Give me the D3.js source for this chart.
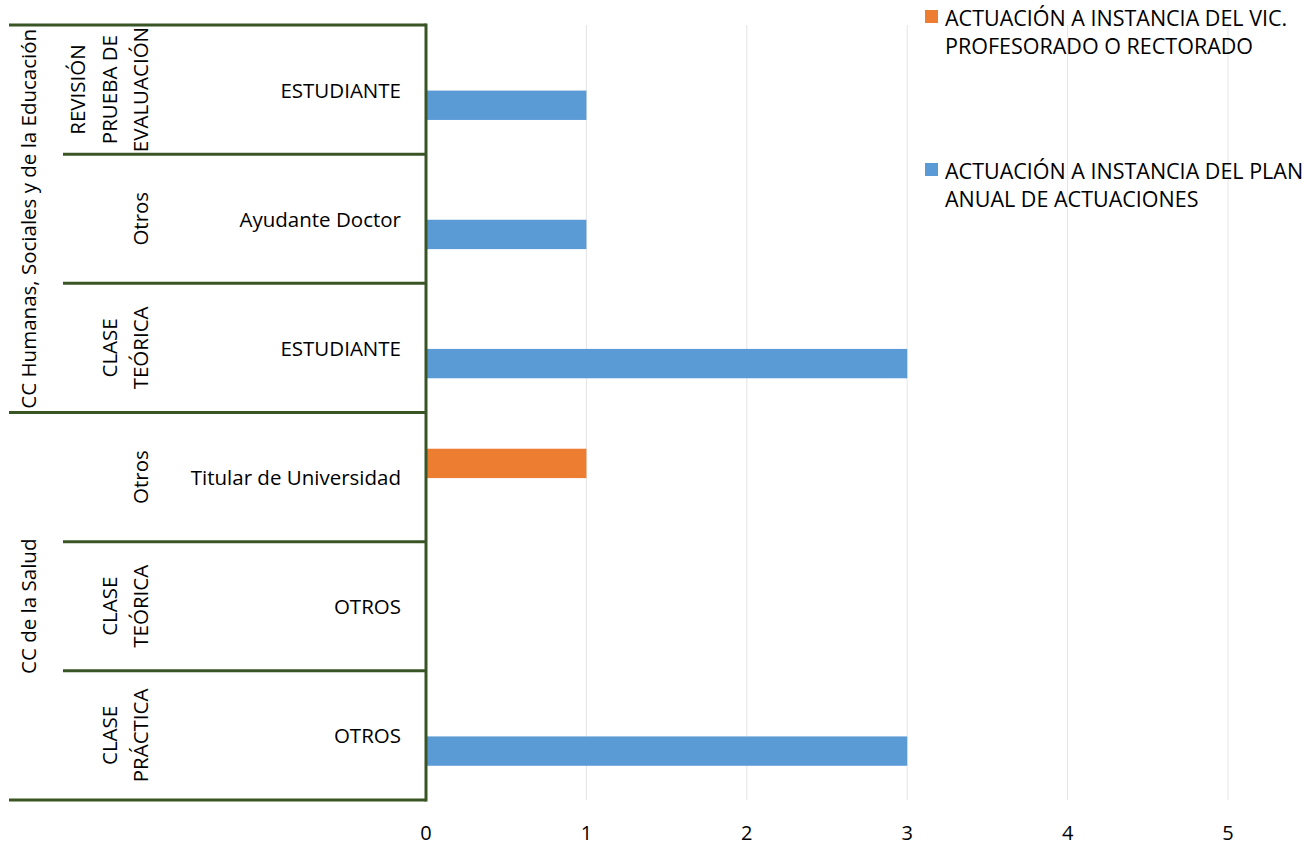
<!DOCTYPE html>
<html>
<head>
<meta charset="utf-8">
<script src="https://cdn.jsdelivr.net/npm/d3@7"></script>
<style>
  body { margin: 0; background: #fff; }
  text { font-family: "Open Sans", sans-serif; fill: #000; }
</style>
</head>
<body>
<div id="okvir"></div>
<script>
// podatci
const kategorije = ["ESTUDIANTE", "Ayudante Doctor", "ESTUDIANTE", "Titular de Universidad", "OTROS", "OTROS"];
const tipovi = [["REVISIÓN", "PRUEBA DE", "EVALUACIÓN"], ["Otros"], ["CLASE", "TEÓRICA"], ["Otros"], ["CLASE", "TEÓRICA"], ["CLASE", "PRÁCTICA"]];
const podrucja = ["CC Humanas, Sociales y de la Educación", "CC de la Salud"];
const podrucjeRaspon = [[0, 3], [3, 6]]; // indeksi kategorija [od, do)
const serije = ["ACTUACIÓN A INSTANCIA DEL VIC. PROFESORADO O RECTORADO", "ACTUACIÓN A INSTANCIA DEL PLAN ANUAL DE ACTUACIONES"];
const serijeRedovi = [["ACTUACIÓN A INSTANCIA DEL VIC.", "PROFESORADO O RECTORADO"], ["ACTUACIÓN A INSTANCIA DEL PLAN", "ANUAL DE ACTUACIONES"]];
const vicRectorado = [0, 0, 0, 1, 0, 0];
const planAnual = [1, 1, 3, 0, 0, 3];
const xTicks = [0, 1, 2, 3, 4, 5];

const boje = ["#ED7D31", "#5B9BD5"];
const zelena = "#3a5525";
const fs = 20.5;

const dimenzije = { width: 1311, height: 845, top: 25, bottom: 800, left: 426, right: 1228 };

const svg = d3.select("#okvir").append("svg")
  .attr("width", dimenzije.width)
  .attr("height", dimenzije.height);

const idx = kategorije.map((d, i) => i);

const xMjerilo = d3.scaleLinear().domain([0, 5]).range([dimenzije.left, dimenzije.right]);
const yMjerilo = d3.scaleBand().domain(idx).range([dimenzije.top, dimenzije.bottom]).paddingInner(0).paddingOuter(0);
const ySerija = d3.scaleBand().domain([0, 1]).range([0, yMjerilo.bandwidth()]).paddingInner(0).paddingOuter(1.2);

// mreža
svg.append("g").selectAll("line")
  .data(xTicks.slice(1))
  .join("line")
  .attr("x1", d => xMjerilo(d)).attr("x2", d => xMjerilo(d))
  .attr("y1", dimenzije.top).attr("y2", dimenzije.bottom)
  .attr("stroke", "#e4e4e4").attr("stroke-width", 1);

// stupci
const vrijednosti = [vicRectorado, planAnual];
vrijednosti.forEach((niz, s) => {
  svg.append("g").selectAll("rect")
    .data(niz.map((v, i) => ({ v, i })).filter(d => d.v > 0))
    .join("rect")
    .attr("x", xMjerilo(0))
    .attr("y", d => yMjerilo(d.i) + ySerija(s) + 1)
    .attr("width", d => xMjerilo(d.v) - xMjerilo(0))
    .attr("height", ySerija.bandwidth())
    .attr("fill", boje[s]);
});

// x os oznake
svg.append("g").selectAll("text")
  .data(xTicks)
  .join("text")
  .attr("x", d => xMjerilo(d))
  .attr("y", 832)
  .attr("text-anchor", "middle")
  .attr("dominant-baseline", "central")
  .attr("font-size", 20)
  .text(d => d);

// linije kategorija
const os = svg.append("g").attr("stroke", zelena).attr("stroke-width", 3);
os.append("line")
  .attr("x1", dimenzije.left).attr("x2", dimenzije.left)
  .attr("y1", dimenzije.top - 1.5).attr("y2", dimenzije.bottom + 1.5);
const granice = idx.concat([kategorije.length]);
const podrucjeGranice = new Set(podrucjeRaspon.flat());
os.selectAll("line.granica")
  .data(granice)
  .join("line")
  .attr("class", "granica")
  .attr("x1", d => podrucjeGranice.has(d) ? 9 : 63)
  .attr("x2", dimenzije.left)
  .attr("y1", d => d < kategorije.length ? yMjerilo(d) : dimenzije.bottom)
  .attr("y2", d => d < kategorije.length ? yMjerilo(d) : dimenzije.bottom);

// razina 1
svg.append("g").selectAll("text")
  .data(idx)
  .join("text")
  .attr("x", 401)
  .attr("y", i => yMjerilo(i) + yMjerilo.bandwidth() / 2)
  .attr("text-anchor", "end")
  .attr("dominant-baseline", "central")
  .attr("font-size", fs)
  .text(i => kategorije[i]);

// razina 2 (rotirano)
idx.forEach(i => {
  const redovi = tipovi[i];
  const yc = yMjerilo(i) + yMjerilo.bandwidth() / 2;
  redovi.forEach((r, k) => {
    const x = 140 - (redovi.length - 1 - k) * 31.5;
    svg.append("text")
      .attr("transform", `translate(${x},${yc}) rotate(-90)`)
      .attr("text-anchor", "middle")
      .attr("dominant-baseline", "central")
      .attr("font-size", fs)
      .text(r);
  });
});

// razina 3 (rotirano)
podrucja.forEach((p, j) => {
  const [od, doo] = podrucjeRaspon[j];
  const y0 = yMjerilo(od);
  const y1 = doo < kategorije.length ? yMjerilo(doo) : dimenzije.bottom;
  svg.append("text")
    .attr("transform", `translate(28,${(y0 + y1) / 2}) rotate(-90)`)
    .attr("text-anchor", "middle")
    .attr("dominant-baseline", "central")
    .attr("font-size", fs)
    .text(p);
});

// legenda
const legendaY = [17, 170];
serije.forEach((s, j) => {
  const g = svg.append("g");
  g.append("rect")
    .attr("x", 925).attr("y", legendaY[j] - 7)
    .attr("width", 13).attr("height", 13)
    .attr("fill", boje[j]);
  serijeRedovi[j].forEach((r, k) => {
    g.append("text")
      .attr("x", 945)
      .attr("y", legendaY[j] + k * 28)
      .attr("dominant-baseline", "central")
      .attr("font-size", 21.5)
      .text(r);
  });
});
</script>
</body>
</html>
